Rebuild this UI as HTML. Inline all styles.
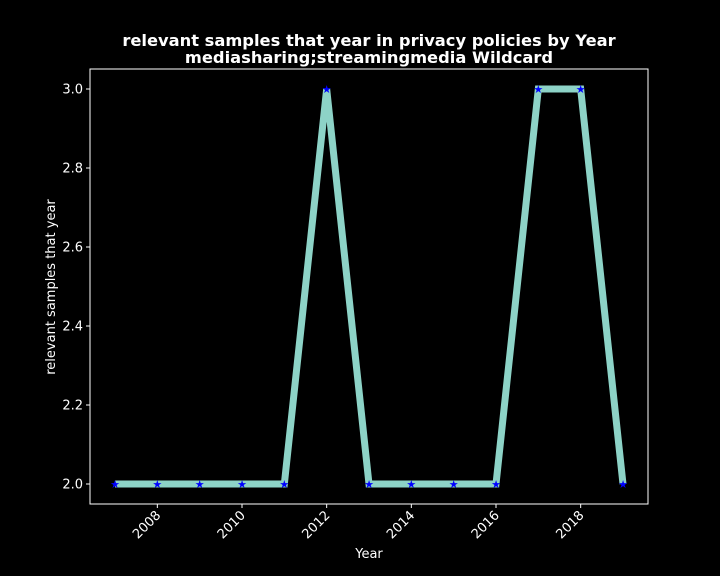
<!DOCTYPE html>
<html><head><meta charset="utf-8"><style>
body{margin:0;background:#000;}
svg{display:block;font-family:"DejaVu Sans","Liberation Sans",sans-serif;}
</style></head><body>
<svg id="chart" width="720" height="576">
<rect width="720" height="576" fill="#000"/>
<text x="369" y="46" fill="#fff" font-size="16.3" font-weight="bold" text-anchor="middle">relevant samples that year in privacy policies by Year</text>
<text x="369" y="63" fill="#fff" font-size="16.3" font-weight="bold" text-anchor="middle">mediasharing;streamingmedia Wildcard</text>
<rect x="90" y="69" width="558" height="435" fill="none" stroke="#fff" stroke-width="1"/>
<g id="xt"></g><g id="yt"></g><g id="series"></g>
<text x="369" y="558" fill="#fff" font-size="13" text-anchor="middle">Year</text>
<text transform="translate(55,287) rotate(-90)" fill="#fff" font-size="13" text-anchor="middle">relevant samples that year</text>
</svg>
<script>
const years=[2007,2008,2009,2010,2011,2012,2013,2014,2015,2016,2017,2018,2019];
const values=[2,2,2,2,2,3,2,2,2,2,3,3,2];
const xTicks=[2008,2010,2012,2014,2016,2018];
const yTicks=[2.0,2.2,2.4,2.6,2.8,3.0];
const NS="http://www.w3.org/2000/svg";
const x=v=>115+(v-2007)*(623-115)/12;
const y=v=>484-(v-2)*395;
function mk(t,a,p){const e=document.createElementNS(NS,t);for(const k in a)e.setAttribute(k,a[k]);p.appendChild(e);return e;}
const xt=document.getElementById('xt'),yt=document.getElementById('yt'),s=document.getElementById('series');
xTicks.forEach(v=>{
 const l=mk('line',{x1:x(v),x2:x(v),y1:504,y2:508,stroke:'#fff'},xt);
 
 
 const t=mk('text',{x:x(v)+4,y:516,fill:'#fff','font-size':13,'text-anchor':'end',transform:`rotate(-45 ${x(v)+4} 516)`},xt);
 t.textContent=v;
 
 
});
yTicks.forEach(v=>{
 const l=mk('line',{x1:86,x2:90,y1:y(v),y2:y(v),stroke:'#fff'},yt);
 
 
 const t=mk('text',{x:83,y:y(v)+4.5,fill:'#fff','font-size':13,'text-anchor':'end'},yt);
 t.textContent=v.toFixed(1);
 
 
});
const pl=mk('polyline',{points:years.map((yr,i)=>x(yr)+','+y(values[i])).join(' '),fill:'none',stroke:'#8dd3c7','stroke-width':7,'stroke-linejoin':'miter'},s);


years.forEach((yr,i)=>{
 const t=mk('text',{x:x(yr),y:y(values[i])+4,fill:'#0000ff','font-size':11,'text-anchor':'middle'},s);
 t.textContent='★';
 
 
});
</script>
</body></html>
